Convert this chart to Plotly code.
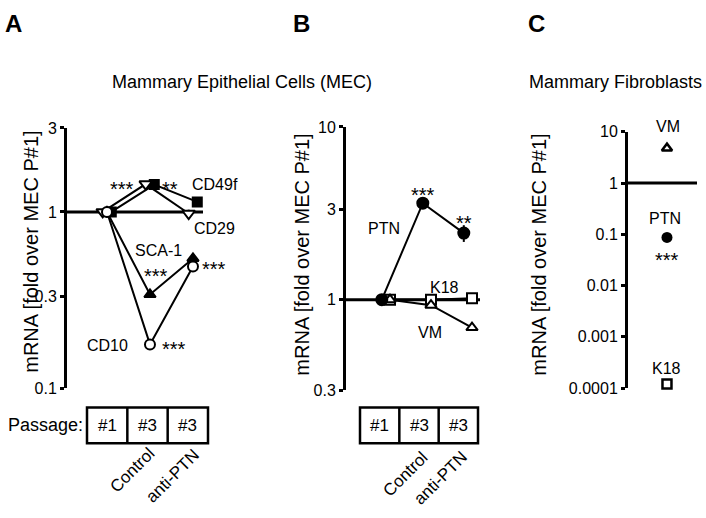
import plotly.graph_objects as go

# ---------------- data ----------------
passages = ["#1", "#3", "#3"]
treatments = ["Control", "anti-PTN"]

a_x = [1, 2, 3]
a_cd49f = [1.0, 1.43, 1.14]
a_cd29 = [1.0, 1.44, 0.98]
a_cd29_err = [0.0, 0.03, 0.05]
a_sca1 = [1.0, 0.34, 0.545]
a_sca1_err = [0.0, 0.01, 0.025]
a_cd10 = [1.0, 0.177, 0.49]
a_cd10_err = [0.0, 0.005, 0.02]

b_x = [1, 2, 3]
b_ptn = [1.0, 3.62, 2.43]
b_ptn_err = [0.0, 0.12, 0.27]
b_k18 = [1.0, 1.0, 1.02]
b_vm = [1.0, 0.93, 0.69]
b_vm_err = [0.0, 0.03, 0.03]

c_x = [1]
c_vm = [4.8]
c_ptn = [0.087]
c_ptn_err = [0.012]
c_k18 = [0.00012]

a_ticks = [0.1, 1 / 3, 1, 3]
a_ticktext = ["0.1", "0.3", "1", "3"]
b_ticks = [0.3, 1, 10 / 3, 10]
b_ticktext = ["0.3", "1", "3", "10"]
c_ticks = [0.0001, 0.001, 0.01, 0.1, 1, 10]
c_ticktext = ["0.0001", "0.001", "0.01", "0.1", "1", "10"]

# ---------------- layout helpers ----------------
W, H = 706, 518
FONT = "Arial, Liberation Sans, sans-serif"


def px(x):
    return x / W


def py(y):
    return 1 - y / H


fig = go.Figure()


def add_series(xs, ys, axis, symbol, filled, offset=0.0, err=None, size=10):
    xa, ya = axis
    fig.add_trace(go.Scatter(
        x=[v + offset for v in xs], y=ys, xaxis=xa, yaxis=ya,
        mode="lines+markers",
        line=dict(color="black", width=2),
        marker=dict(symbol=symbol, size=size,
                    color="black" if filled else "white",
                    line=dict(color="black", width=2)),
        error_y=dict(type="data", array=err, visible=err is not None,
                     color="black", thickness=2, width=0),
        showlegend=False, hoverinfo="skip", cliponaxis=False,
    ))


# Panel A
add_series(a_x, a_cd49f, ("x", "y"), "square", True, offset=0.1, size=9)
add_series(a_x, a_sca1, ("x", "y"), "triangle-up", True, err=a_sca1_err, size=10)
add_series(a_x, a_cd29, ("x", "y"), "triangle-down", False, offset=-0.1, err=a_cd29_err, size=11)
add_series(a_x, a_cd10, ("x", "y"), "circle", False, err=a_cd10_err, size=10)

# Panel B
add_series(b_x, b_k18, ("x2", "y2"), "square", False, size=10)
add_series(b_x, b_vm, ("x2", "y2"), "triangle-up", False, err=b_vm_err, size=10)
add_series(b_x, b_ptn, ("x2", "y2"), "circle", True, offset=-0.2, err=b_ptn_err, size=11)

# Panel C
fig.add_trace(go.Scatter(x=c_x, y=c_vm, xaxis="x3", yaxis="y3", mode="markers",
                         marker=dict(symbol="triangle-up", size=9, color="white",
                                     line=dict(color="black", width=2.5)),
                         showlegend=False, hoverinfo="skip", cliponaxis=False))
fig.add_trace(go.Scatter(x=c_x, y=c_ptn, xaxis="x3", yaxis="y3", mode="markers",
                         marker=dict(symbol="circle", size=11, color="black"),
                         error_y=dict(type="data", array=c_ptn_err, color="black",
                                      thickness=2, width=0),
                         showlegend=False, hoverinfo="skip", cliponaxis=False))
fig.add_trace(go.Scatter(x=c_x, y=c_k18, xaxis="x3", yaxis="y3", mode="markers",
                         marker=dict(symbol="square", size=9, color="white",
                                     line=dict(color="black", width=2.5)),
                         showlegend=False, hoverinfo="skip", cliponaxis=False))

yax_common = dict(type="log", showline=True, linewidth=3, linecolor="black",
                  ticks="outside", ticklen=4, tickwidth=2.5, tickcolor="black",
                  showgrid=False, zeroline=False,
                  tickfont=dict(family=FONT, size=16, color="black"))
xax_common = dict(visible=False, showgrid=False, zeroline=False)

fig.update_layout(
    width=W, height=H,
    margin=dict(l=0, r=0, t=0, b=0),
    paper_bgcolor="white", plot_bgcolor="white",
    font=dict(family=FONT, color="black"),
    xaxis=dict(domain=[px(67), px(203)], range=[0.07, 3.233], anchor="y", **xax_common),
    yaxis=dict(domain=[py(393), py(124)], range=[-1, 0.4771],
               tickvals=a_ticks, ticktext=a_ticktext, anchor="x", **yax_common),
    xaxis2=dict(domain=[px(346), px(480)], range=[-0.073, 3.195], anchor="y2", **xax_common),
    yaxis2=dict(domain=[py(395), py(123)], range=[-0.5229, 1],
                tickvals=b_ticks, ticktext=b_ticktext, anchor="x2", **yax_common),
    xaxis3=dict(domain=[px(628), px(697)], range=[0, 1.77], anchor="y3", **xax_common),
    yaxis3=dict(domain=[py(393), py(128)], range=[-4, 1],
                tickvals=c_ticks, ticktext=c_ticktext, anchor="x3", **yax_common),
)

shapes = []
# reference lines at 1 with small ticks
for xa, ya, xs in (("x", "y", a_x), ("x2", "y2", b_x), ("x3", "y3", c_x)):
    shapes.append(dict(type="line", xref=f"{xa} domain", yref=ya, x0=0, x1=1, y0=1, y1=1,
                       line=dict(color="black", width=3), layer="below"))
    for v in xs:
        shapes.append(dict(type="line", xref=xa, yref=ya, x0=v, x1=v,
                           ysizemode="pixel", yanchor=1, y0=0, y1=-5,
                           line=dict(color="black", width=2.5), layer="below"))

annotations = []


def txt(text, x, y, size=16, **kw):
    annotations.append(dict(text=text, x=px(x), y=py(y), xref="paper", yref="paper",
                            showarrow=False, xanchor=kw.pop("xanchor", "center"),
                            yanchor=kw.pop("yanchor", "middle"),
                            font=dict(family=FONT, size=size, color="black",
                                      **({"weight": "bold"} if kw.pop("bold", False) else {})),
                            **kw))


def stars(text, x, y):
    txt(text, x, y + 5, size=20)


# passage boxes
def boxes(x0, x1, y0, y1, ctrl_c, anti_c):
    shapes.append(dict(type="rect", xref="paper", yref="paper",
                       x0=px(x0), x1=px(x1), y0=py(y1), y1=py(y0),
                       line=dict(color="black", width=2.5)))
    step = (x1 - x0) / 3
    for i in (1, 2):
        xd = x0 + step * i
        shapes.append(dict(type="line", xref="paper", yref="paper",
                           x0=px(xd), x1=px(xd), y0=py(y1), y1=py(y0),
                           line=dict(color="black", width=2.5)))
    for i, lab in enumerate(passages):
        txt(lab, x0 + step * (i + 0.5), (y0 + y1) / 2, size=17)
    txt(treatments[0], ctrl_c[0], ctrl_c[1], size=17, textangle=-45)
    txt(treatments[1], anti_c[0], anti_c[1], size=17, textangle=-45)


boxes(87, 208, 413, 450, (132, 478), (172, 484))
boxes(360, 478, 413, 450, (405, 482), (440, 486))
txt("Passage:", 85, 431, size=18, xanchor="right")

# panel letters and titles
txt("A", 13, 16, size=24, bold=True)
txt("B", 301, 16, size=24, bold=True)
txt("C", 536, 16, size=24, bold=True)
txt("Mammary Epithelial Cells (MEC)", 242, 76, size=18)
txt("Mammary Fibroblasts", 615, 76, size=18)

ytitle = "mRNA [fold over MEC P#1]"
txt(ytitle, 31, 252, size=20, textangle=-90)
txt(ytitle, 302, 255, size=20, textangle=-90)
txt(ytitle, 539, 255, size=20, textangle=-90)

# Panel A labels
stars("***", 122, 182)
stars("**", 170, 182)
txt("CD49f", 215, 182)
txt("CD29", 214, 228)
txt("SCA-1", 158, 251)
stars("***", 156, 272)
stars("***", 214, 265)
txt("CD10", 107, 349)
stars("***", 174, 348)

# Panel B labels
stars("***", 423, 188)
stars("**", 464, 217)
txt("PTN", 384, 228)
txt("K18", 444, 289)
txt("VM", 430, 336)

# Panel C labels
txt("VM", 668, 123)
txt("PTN", 665, 218)
stars("***", 667, 256)
txt("K18", 666, 373)

fig.update_layout(shapes=shapes, annotations=annotations)

fig.write_html("out.html",
               config={"displayModeBar": False},
               post_script="document.body.style.margin='0px';"
                           "document.body.style.overflow='hidden';")
